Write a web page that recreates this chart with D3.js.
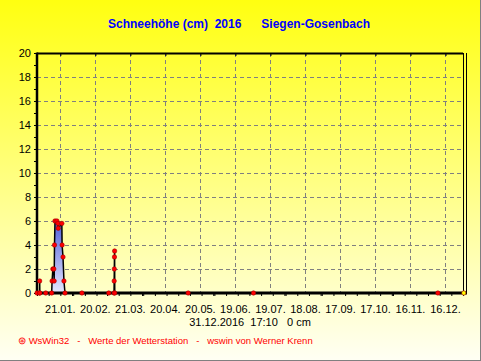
<!DOCTYPE html>
<html lang="de">
<head>
<meta charset="utf-8">
<title>Schneehöhe 2016 Siegen-Gosenbach</title>
<script src="https://d3js.org/d3.v7.min.js"></script>
<style>
  html, body { margin: 0; padding: 0; background: #fff; }
  text { font-family: Arial, "Liberation Sans", sans-serif; }
  .grid line { stroke: #808080; stroke-width: 1; stroke-dasharray: 4,3; shape-rendering: crispEdges; }
  .snow { fill: none; stroke: #000; stroke-width: 1.5; }
</style>
</head>
<body>
<script>

// Messzeitpunkte und Schneehöhe (cm)
var times = [
  "2016-01-01 00:00", "2016-01-03 05:00", "2016-01-03 07:00", "2016-01-03 10:00",
  "2016-01-08 12:00", "2016-01-13 14:00", "2016-01-13 22:00", "2016-01-14 14:00",
  "2016-01-15 10:00", "2016-01-15 17:00", "2016-01-16 00:00", "2016-01-16 10:00",
  "2016-01-18 02:00", "2016-01-18 22:00", "2016-01-19 05:00", "2016-01-22 07:00",
  "2016-01-22 12:00", "2016-01-23 07:00", "2016-01-24 02:00", "2016-01-25 00:00",
  "2016-02-08 12:00", "2016-03-02 12:00", "2016-03-07 00:00", "2016-03-07 03:00",
  "2016-03-07 06:00", "2016-03-07 09:00", "2016-03-07 12:00", "2016-03-07 15:00",
  "2016-05-09 12:00", "2016-07-04 12:00", "2016-12-09 12:00", "2016-12-31 17:10"
];
var snowCm = [
  0, 0, 1, 0,
  0, 0, 1, 2,
  2, 1, 4, 6,
  6, 5.8, 5.4, 5.8,
  4, 3, 1, 0,
  0, 0, 0, 1,
  2, 3, 3.5, 0,
  0, 0, 0, 0
];

var tickDates = ["2016-01-21", "2016-02-20", "2016-03-21", "2016-04-20", "2016-05-20", "2016-06-19",
                 "2016-07-19", "2016-08-18", "2016-09-17", "2016-10-17", "2016-11-16", "2016-12-16"];
var tickLabels = ["21.01.", "20.02.", "21.03.", "20.04.", "20.05.", "19.06.",
                  "19.07.", "18.08.", "17.09.", "17.10.", "16.11.", "16.12."];
var yTicks = [0, 2, 4, 6, 8, 10, 12, 14, 16, 18, 20];

var title = "Schneehöhe (cm)  2016      Siegen-Gosenbach";
var lastValue = "31.12.2016  17:10   0 cm";
var footer = "\u229B WsWin32   -   Werte der Wetterstation   -   wswin von Werner Krenn";

var W = 481, H = 361;
var pL = 37, pR = 463, pT = 53, pB = 293;

var parseT = d3.timeParse("%Y-%m-%d %H:%M");
var parseD = d3.timeParse("%Y-%m-%d");

var data = times.map(function(t, i) { return { t: parseT(t), v: snowCm[i] }; });

var x = d3.scaleTime()
  .domain([parseD("2016-01-01"), parseD("2016-12-31")])
  .range([pL, pR]);
var y = d3.scaleLinear().domain([0, 20]).range([pB, pT]);

var svg = d3.select("body").append("svg").attr("width", W).attr("height", H);
var defs = svg.append("defs");

var bg = defs.append("linearGradient").attr("id", "bg").attr("x1", 0).attr("y1", 0).attr("x2", 0).attr("y2", 1);
bg.append("stop").attr("offset", "0%").attr("stop-color", "#ffff10");
bg.append("stop").attr("offset", "100%").attr("stop-color", "#fffff4");

var fillG = defs.append("linearGradient").attr("id", "fillG")
  .attr("gradientUnits", "userSpaceOnUse").attr("x1", 0).attr("y1", y(6)).attr("x2", 0).attr("y2", pB);
fillG.append("stop").attr("offset", "0%").attr("stop-color", "#4f5fd8");
fillG.append("stop").attr("offset", "100%").attr("stop-color", "#e6e8ff");

svg.append("rect").attr("width", W).attr("height", H).attr("fill", "url(#bg)");
svg.append("line").attr("x1", W - 0.5).attr("x2", W - 0.5).attr("y1", 0).attr("y2", H).attr("stroke", "#808080");
svg.append("line").attr("x1", 0).attr("x2", W).attr("y1", H - 0.5).attr("y2", H - 0.5).attr("stroke", "#808080");

// title
svg.append("text").attr("x", 239).attr("y", 28).attr("text-anchor", "middle")
  .attr("xml:space", "preserve").style("white-space", "pre")
  .attr("fill", "#0000ff").attr("font-weight", "bold").attr("font-size", "12px").text(title);

// grid
var grid = svg.append("g").attr("class", "grid");
grid.selectAll("line.h").data(yTicks.slice(1, -1)).enter().append("line")
  .attr("x1", pL).attr("x2", pR).attr("y1", function(d) { return y(d) + 0.5; }).attr("y2", function(d) { return y(d) + 0.5; });
grid.selectAll("line.v").data(tickDates).enter().append("line")
  .attr("x1", function(d) { return Math.round(x(parseD(d))) + 0.5; })
  .attr("x2", function(d) { return Math.round(x(parseD(d))) + 0.5; })
  .attr("y1", pT).attr("y2", pB);

// area + line
var area = d3.area().x(function(d) { return x(d.t); }).y0(pB).y1(function(d) { return y(d.v); });
var line = d3.line().x(function(d) { return x(d.t); }).y(function(d) { return y(d.v); });
svg.append("path").datum(data).attr("d", area).attr("fill", "url(#fillG)");

// frame
var yAxis = d3.axisLeft(y).tickValues(d3.range(0, 21, 1)).tickSize(3).tickFormat("");
svg.append("g").attr("transform", "translate(" + pL + ",0)").call(yAxis)
  .call(function(g) { g.select(".domain").remove(); });
svg.append("g").attr("font-size", "11px").selectAll("text").data(yTicks).enter().append("text")
  .attr("x", 31).attr("y", function(d) { return y(d) + 4; }).attr("text-anchor", "end").text(function(d) { return d; });

var xMinor = d3.axisBottom(x).ticks(d3.timeDay.every(10)).tickSize(3).tickFormat("");
svg.append("g").attr("transform", "translate(0," + pB + ")").call(xMinor)
  .call(function(g) { g.select(".domain").remove(); });
var xTop = d3.axisBottom(x).tickValues(tickDates.map(parseD)).tickSize(3).tickFormat("");
svg.append("g").attr("transform", "translate(0," + pT + ")").call(xTop)
  .call(function(g) { g.select(".domain").remove(); });

svg.append("g").attr("font-size", "11px").selectAll("text").data(tickDates).enter().append("text")
  .attr("x", function(d) { return x(parseD(d)); }).attr("y", 313).attr("text-anchor", "middle")
  .text(function(d, i) { return tickLabels[i]; });

svg.append("line").attr("x1", pL).attr("x2", pR).attr("y1", pT + 0.5).attr("y2", pT + 0.5).attr("stroke", "#000").attr("stroke-width", 2);
svg.append("line").attr("x1", pR + 0.5).attr("x2", pR + 0.5).attr("y1", pT).attr("y2", pB).attr("stroke", "#000");
svg.append("line").attr("x1", pR + 3.5).attr("x2", pR + 3.5).attr("y1", pT).attr("y2", pB).attr("stroke", "#000");
svg.append("line").attr("x1", pL).attr("x2", pR + 4).attr("y1", pB).attr("y2", pB).attr("stroke", "#000").attr("stroke-width", 3);
svg.append("line").attr("x1", pL).attr("x2", pL).attr("y1", pT - 0.5).attr("y2", pB + 1).attr("stroke", "#000").attr("stroke-width", 2.5);

svg.append("path").datum(data).attr("class", "snow").attr("d", line);
svg.selectAll("circle").data(data).enter().append("circle")
  .attr("cx", function(d) { return x(d.t); }).attr("cy", function(d) { return y(d.v); }).attr("r", 2.2)
  .attr("fill", function(d, i) { return i === data.length - 1 ? "#ffff00" : "#ff0000"; })
  .attr("stroke", "#a00000").attr("stroke-width", 0.6);

svg.append("text").attr("x", 250).attr("y", 326).attr("text-anchor", "middle")
  .attr("xml:space", "preserve").style("white-space", "pre").attr("font-size", "11px").text(lastValue);

svg.append("text").attr("x", 18).attr("y", 344)
  .attr("xml:space", "preserve").style("white-space", "pre")
  .attr("fill", "#ff0000").attr("font-size", "9.5px").text(footer);

</script>
</body>
</html>
